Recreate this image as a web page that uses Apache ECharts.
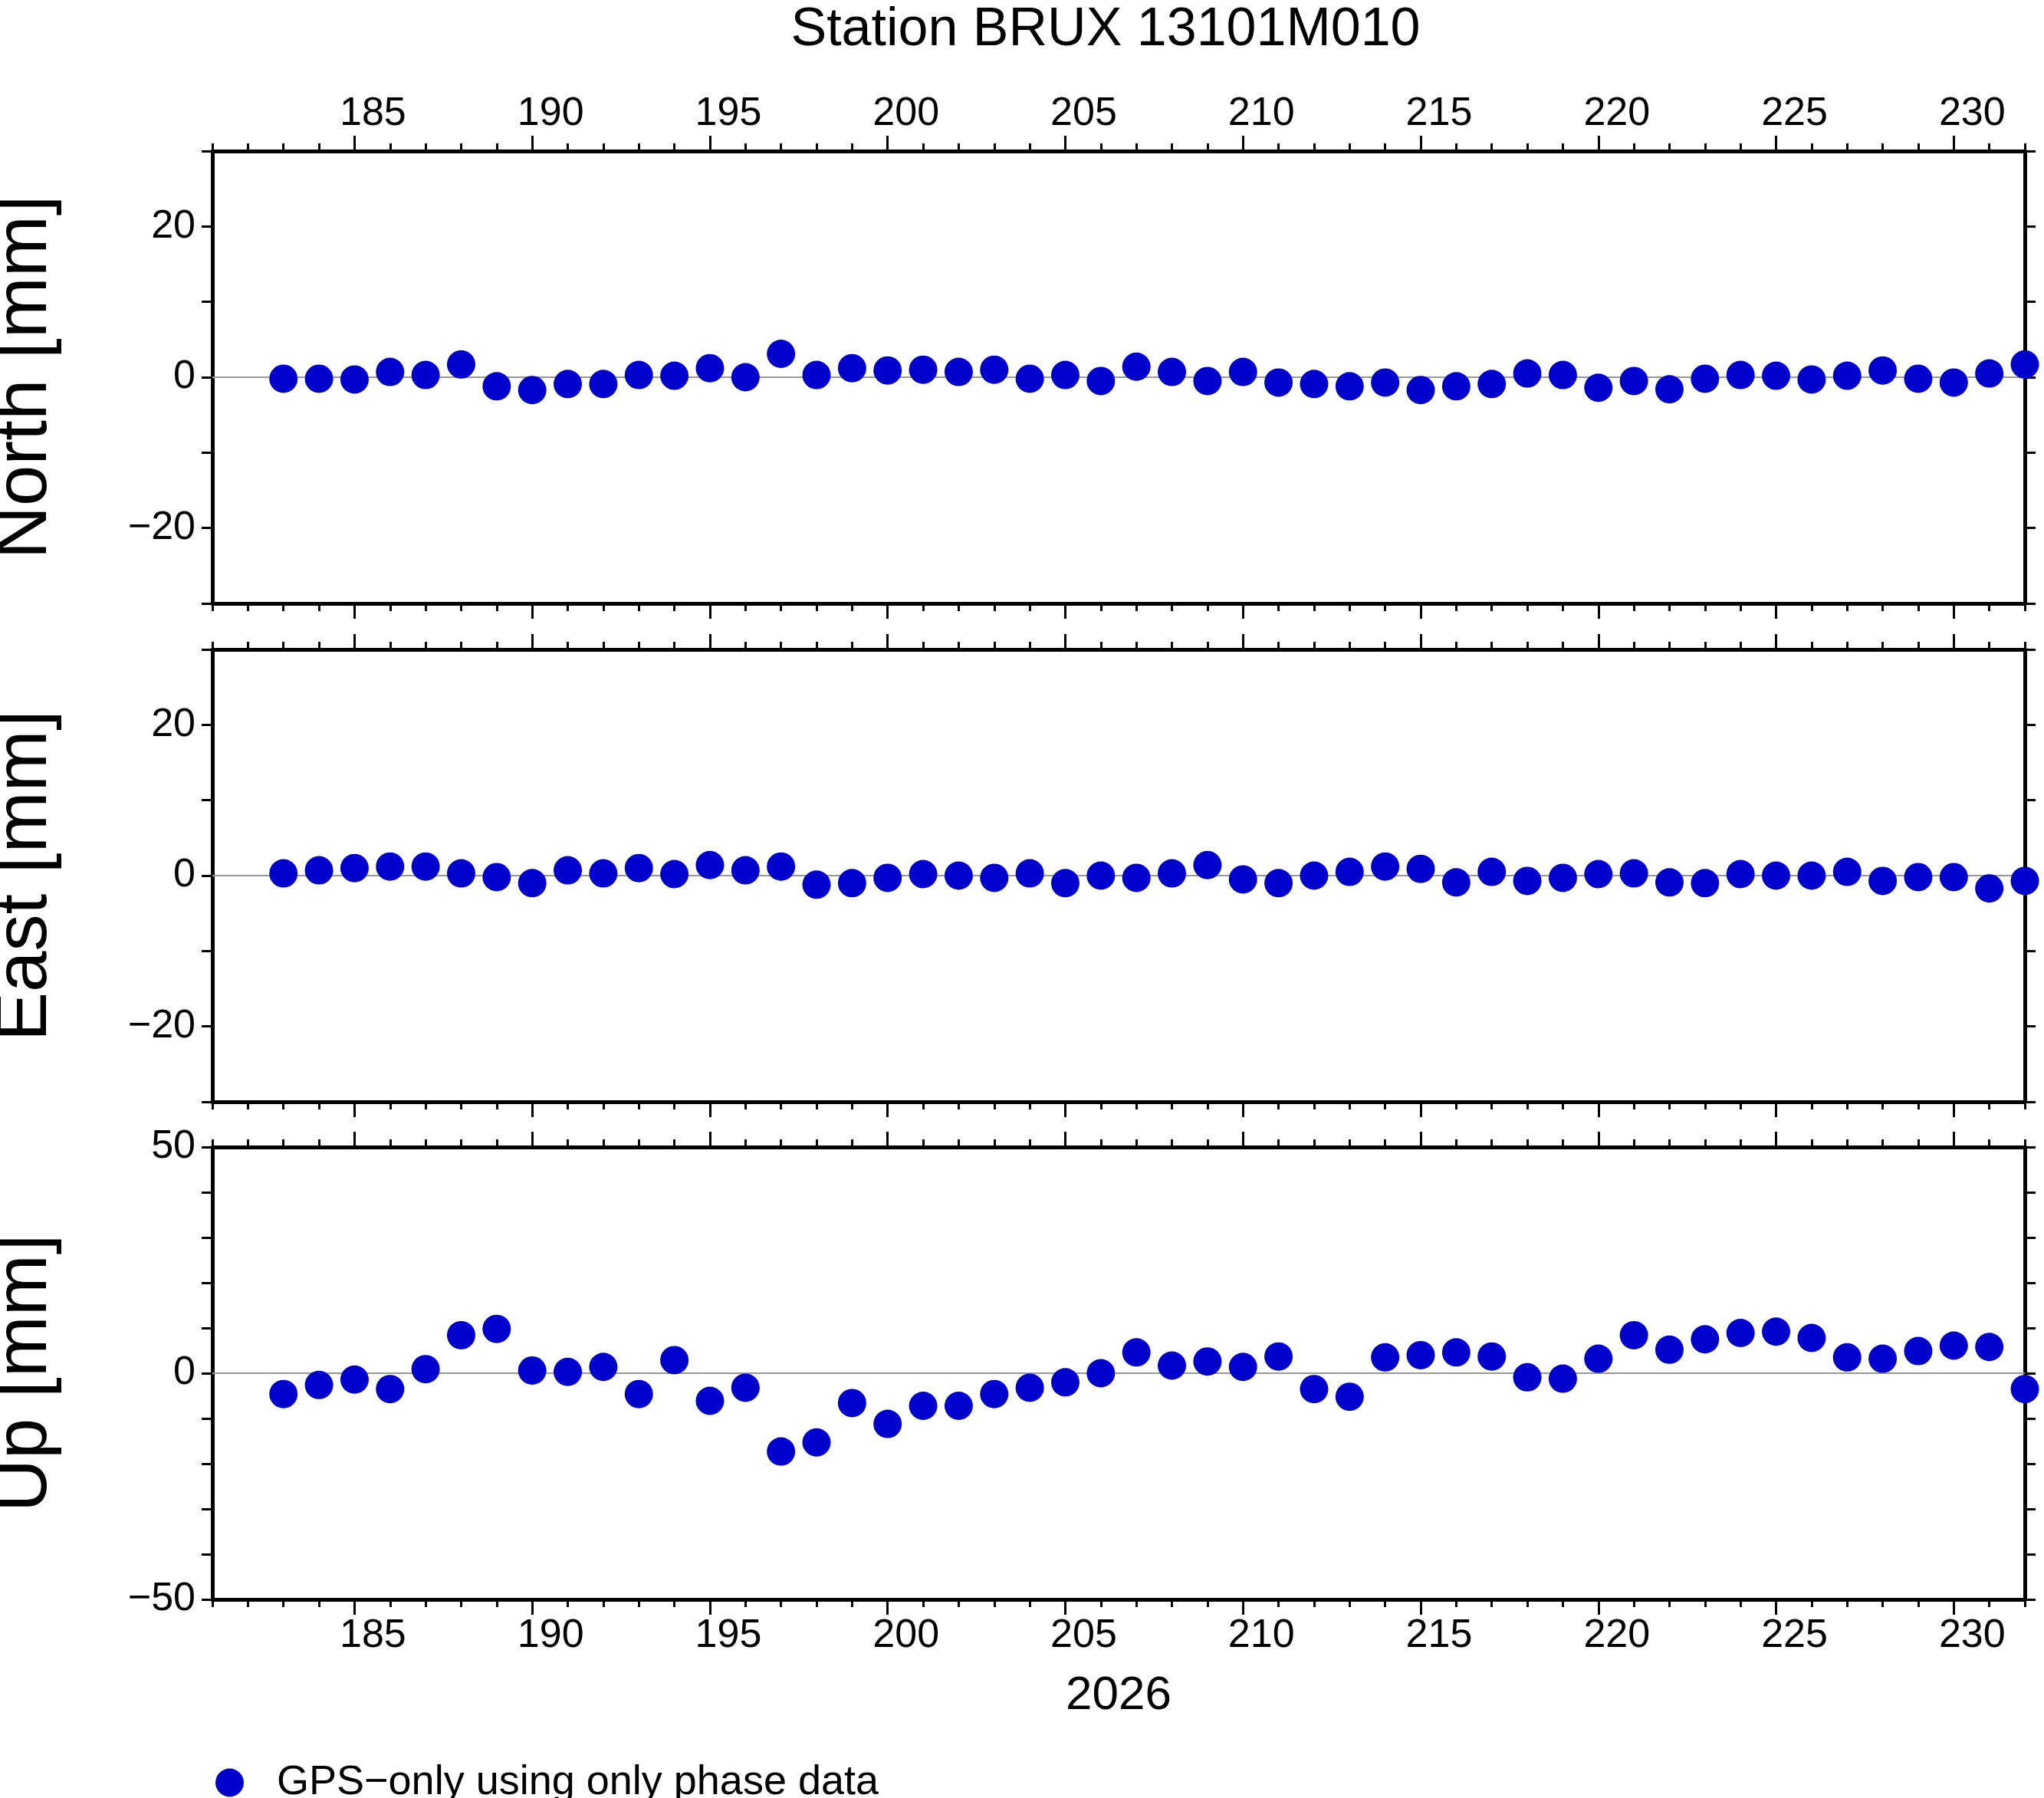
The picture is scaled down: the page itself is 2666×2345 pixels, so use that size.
<!DOCTYPE html>
<html><head><meta charset="utf-8">
<script src="https://cdn.jsdelivr.net/npm/echarts@6/dist/echarts.min.js"></script>
<style>body{margin:0;background:#fff}#c{width:2666px;height:2345px}</style>
</head><body><div id="c"></div>
<script>
const days = [];
for (let d = 181; d <= 232; d++) days.push(String(d));
const obsDays = [183,184,185,186,187,188,189,190,191,192,193,194,195,196,197,198,199,200,201,202,203,204,205,206,207,208,209,210,211,212,213,214,215,216,217,218,219,220,221,222,223,224,225,226,227,228,229,230,231,232];
const north = [-0.2,-0.2,-0.3,0.7,0.3,1.7,-1.2,-1.7,-0.9,-0.9,0.3,0.2,1.2,0,3.1,0.3,1.2,0.9,1.0,0.7,1.0,-0.2,0.3,-0.5,1.4,0.7,-0.5,0.7,-0.7,-0.9,-1.2,-0.7,-1.7,-1.2,-0.9,0.5,0.3,-1.4,-0.5,-1.6,-0.2,0.3,0.2,-0.3,0.2,0.9,-0.2,-0.7,0.5,1.7];
const east = [0.3,0.7,1.0,1.2,1.2,0.3,-0.2,-1.0,0.7,0.3,1.0,0.2,1.4,0.7,1.2,-1.2,-1.0,-0.3,0.2,0,-0.3,0.3,-1.0,0,-0.3,0.3,1.4,-0.5,-1.0,0,0.5,1.2,0.9,-0.9,0.5,-0.7,-0.3,0.2,0.3,-0.9,-1.0,0.2,0,0,0.5,-0.7,-0.2,-0.2,-1.7,-0.7];
const up = [-4.6,-2.6,-1.4,-3.5,0.9,8.4,9.8,0.6,0.3,1.4,-4.6,2.9,-6.1,-3.2,-17.3,-15.3,-6.6,-11.2,-7.2,-7.2,-4.6,-3.2,-2.0,0,4.6,1.7,2.6,1.4,3.7,-3.5,-5.2,3.5,4.0,4.6,3.7,-0.9,-1.2,3.2,8.4,5.2,7.5,8.9,9.2,7.8,3.5,3.2,4.9,6.1,5.8,-3.5];
const panels = [
  {name: 'North [mm]', data: north, min: -30, max: 30, labels: [-20, 0, 20], top: 197},
  {name: 'East [mm]', data: east, min: -30, max: 30, labels: [-20, 0, 20], top: 847},
  {name: 'Up [mm]', data: up, min: -50, max: 50, labels: [-50, 0, 50], top: 1496}
];
const FONT = 'Liberation Sans';
const grid = [], xAxis = [], yAxis = [], series = [];
const black = {color: '#000', width: 5};
panels.forEach((p, i) => {
  grid.push({left: 277, width: 2364, top: p.top, height: 590, outerBoundsMode: 'none', containLabel: false});
  const isMajor = idx => (181 + idx) % 5 === 0;
  [['bottom', true], ['bottom', false], ['top', true], ['top', false]].forEach(([pos, major]) => {
    const showLab = major && ((pos === 'top' && i === 0) || (pos === 'bottom' && i === 2));
    xAxis.push({
      type: 'category', data: days, boundaryGap: false, gridIndex: i, position: pos, offset: 0,
      axisLine: {show: major, onZero: false, lineStyle: black},
      axisTick: {show: true, inside: false, length: major ? 20 : 10,
        interval: major ? isMajor : 0, lineStyle: {color: '#000', width: 3}},
      axisLabel: {show: showLab, interval: isMajor, fontSize: 52, fontFamily: FONT, color: '#000',
        padding: [0, 0, 0, 48], margin: 22},
      splitLine: {show: false},
      name: (showLab && pos === 'bottom') ? '2026' : '', nameLocation: 'middle', nameGap: 95,
      nameTextStyle: {fontSize: 62, fontFamily: FONT, color: '#000'}
    });
  });
  ['left', 'right'].forEach(pos => {
    yAxis.push({
      type: 'value', gridIndex: i, position: pos, min: p.min, max: p.max, interval: 10,
      axisLine: {show: true, onZero: false, lineStyle: black},
      axisTick: {show: true, length: 14, lineStyle: {color: '#000', width: 3}},
      axisLabel: {show: pos === 'left', fontSize: 52, fontFamily: FONT, color: '#000', margin: 22,
        formatter: v => p.labels.includes(v) ? String(v).replace('-', '\u2212') : ''},
      splitLine: {show: false},
      name: pos === 'left' ? p.name : '', nameLocation: 'middle', nameGap: 195, nameRotate: 90,
      nameTextStyle: {fontSize: 96, fontFamily: FONT, color: '#000'}
    });
  });
  series.push({
    type: 'scatter', name: 'GPS\u2212only using only phase data',
    xAxisIndex: i * 4, yAxisIndex: i * 2, clip: false,
    symbolSize: 37, itemStyle: {color: '#0000CD', opacity: 1},
    data: obsDays.map((d, k) => [String(d), p.data[k]]),
    markLine: {silent: true, symbol: 'none', label: {show: false},
      lineStyle: {color: '#999', width: 2, type: 'solid'}, data: [{yAxis: 0}]},
    z: 5
  });
});
const chart = echarts.init(document.getElementById('c'));
chart.setOption({
  animation: false,
  backgroundColor: '#fff',
  title: {text: 'Station BRUX 13101M010', left: 1437, top: 0, textAlign: 'center',
    textStyle: {fontSize: 70, fontWeight: 'normal', fontFamily: FONT, color: '#000'}},
  legend: {left: 276, top: 2293, icon: 'circle', itemWidth: 37, itemHeight: 37, itemGap: 20,
    textStyle: {fontSize: 54, fontFamily: FONT, color: '#000', padding: [0, 0, 0, 38]}},
  grid, xAxis, yAxis, series
});
</script></body></html>
